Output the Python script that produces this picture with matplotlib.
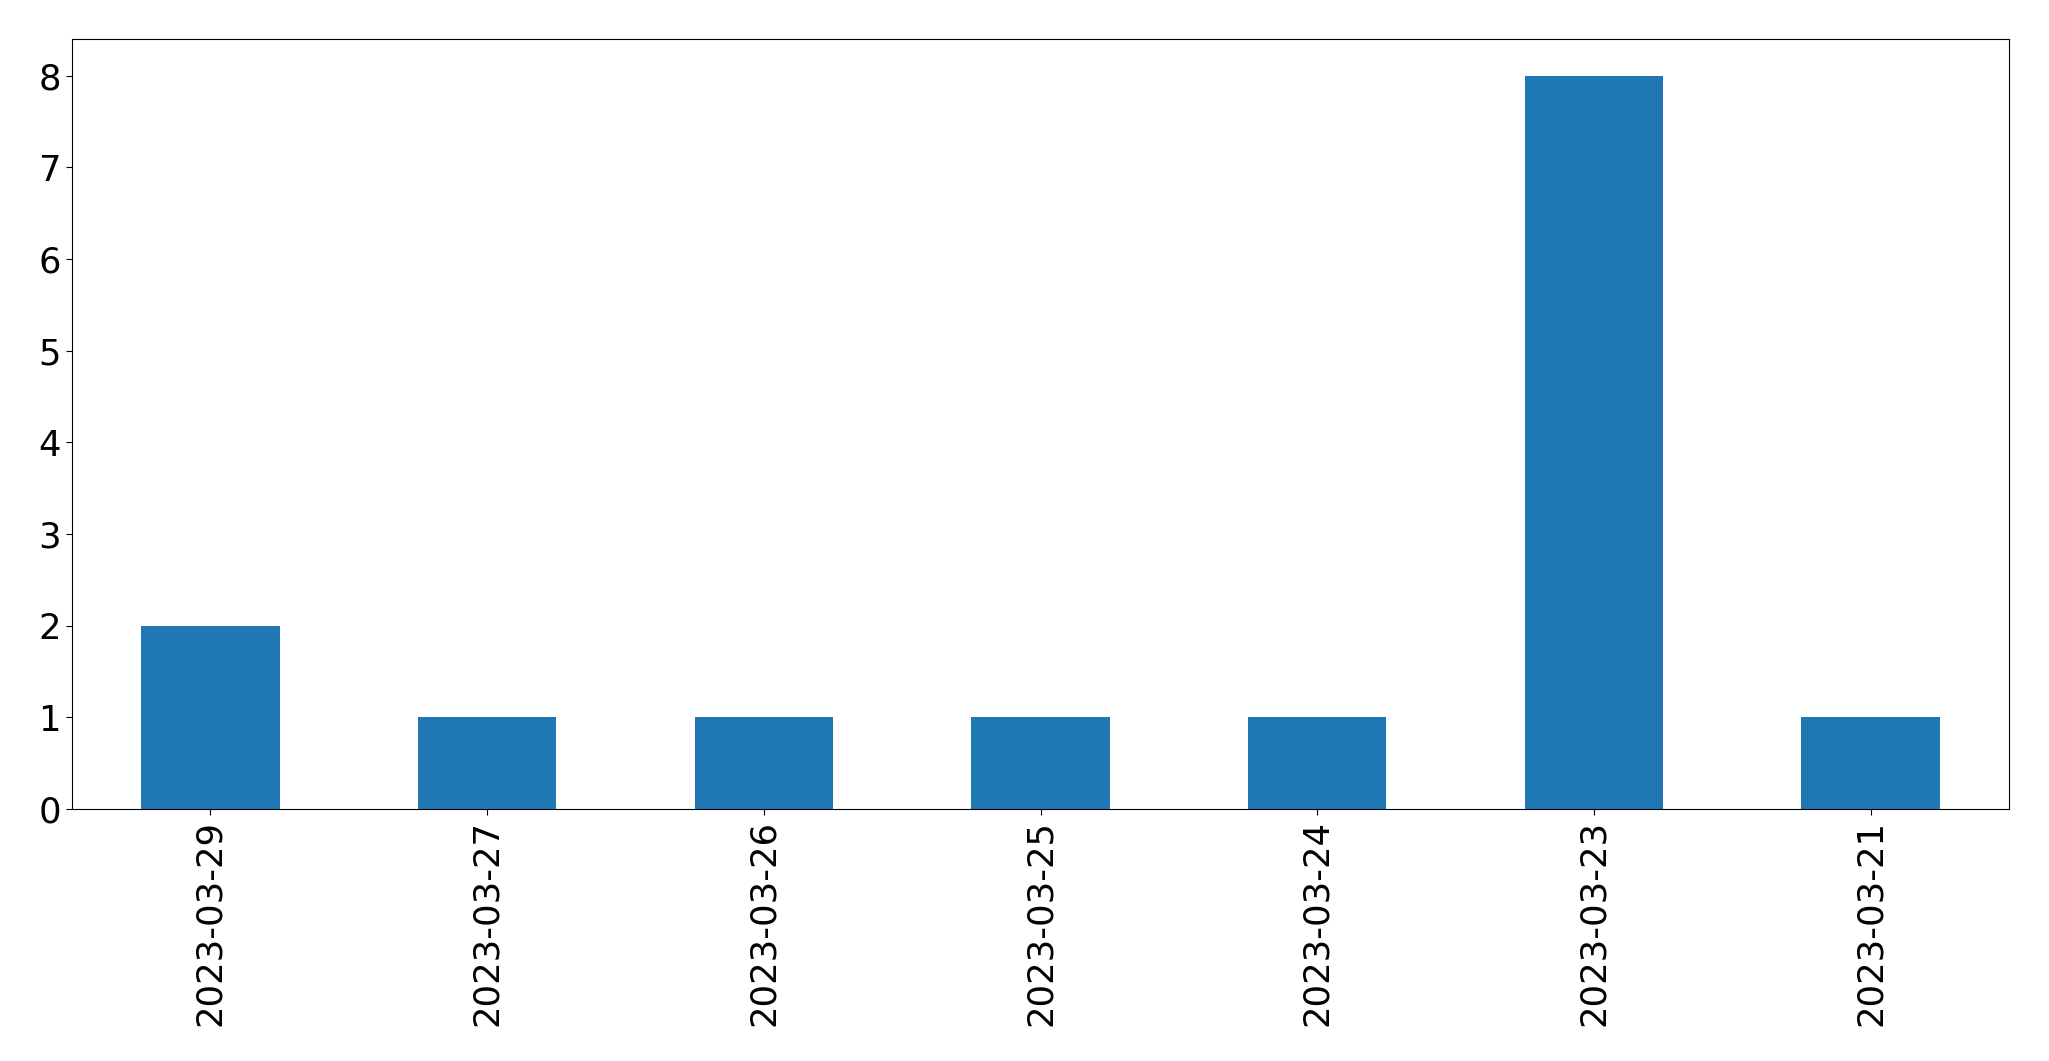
import matplotlib
matplotlib.use("Agg")
import matplotlib.pyplot as plt
import numpy as np

dates = ['2023-03-29', '2023-03-27', '2023-03-26', '2023-03-25',
         '2023-03-24', '2023-03-23', '2023-03-21']
counts = [2, 1, 1, 1, 1, 8, 1]

fig = plt.figure(figsize=(20.49, 10.61), dpi=100)
ax = fig.add_axes([72 / 2049, 1 - 809 / 1061, (2009 - 72) / 2049, (809 - 39) / 1061])

x = np.arange(len(dates))
ax.bar(x, counts, width=0.5, color='#1f77b4')
ax.set_xlim(-0.5, len(dates) - 0.5)
ax.set_ylim(0, 8.4)
ax.set_xticks(x)
ax.set_xticklabels(dates, rotation=90)
ax.tick_params(labelsize=25.5, length=4.5)

plt.savefig("out.png", dpi=100)
plt.close()
